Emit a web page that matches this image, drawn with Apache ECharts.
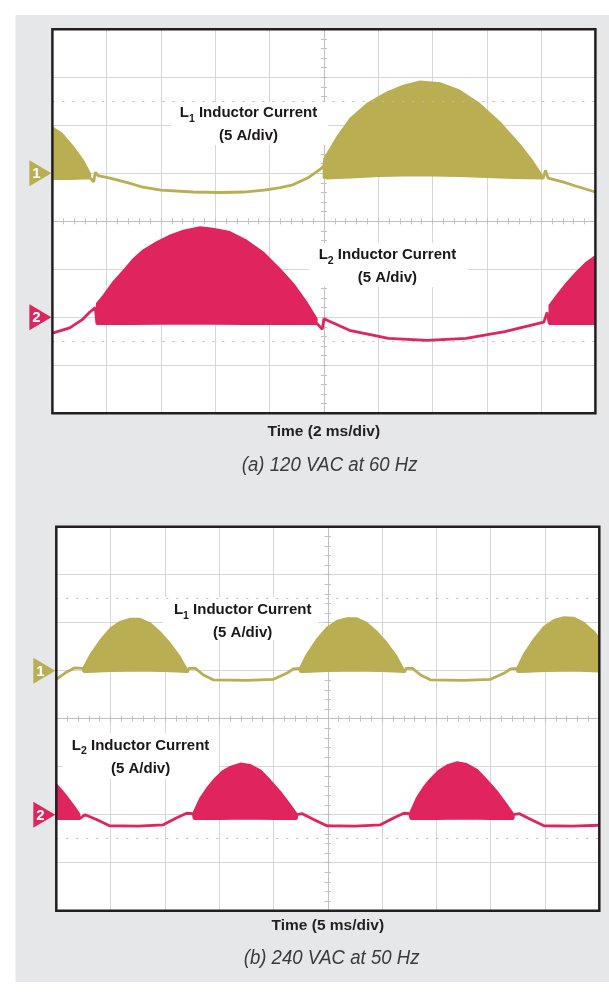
<!DOCTYPE html>
<html><head><meta charset="utf-8">
<script src="https://cdn.jsdelivr.net/npm/echarts@6/dist/echarts.min.js"></script>
<style>html,body{margin:0;padding:0;background:#fff}#c{width:609px;height:992px}</style>
</head><body><div id="c"></div>
<script>
// ---------- Panel (a): 120 VAC at 60 Hz, time in ms (2 ms/div), current in divisions (5 A/div) ----------
// L1 inductor current: base trace
const A_L1_t = [-10, -9.4, -8.8, -8.6, -8.48, -8.42, -8.32, -7.88, -7.2, -6.66, -6.0, -4.8, -3.8, -2.96, -2.2, -1.6, -1.14, -0.6, -0.14, -0.02, 0.1, 1.0, 2.0, 3.0, 4.0, 5.0, 6.0, 7.0, 8.08, 8.16, 8.26, 8.8, 9.24, 10];
const A_L1_i = [0.89, 0.89, 0.9, 0.9, 0.82, 1.02, 0.95, 0.9, 0.8, 0.71, 0.65, 0.61, 0.6, 0.61, 0.65, 0.7, 0.76, 0.9, 1.08, 1.15, 0.9, 0.92, 0.95, 0.96, 0.96, 0.95, 0.93, 0.91, 0.9, 1.06, 0.9, 0.82, 0.74, 0.61];
// L1 switching-ripple envelope
const A_L1_b1_t  = [-10, -9.64, -9.22, -8.86, -8.6];
const A_L1_b1_lo = [0.89, 0.89, 0.89, 0.9, 0.9];
const A_L1_b1_hi = [1.96, 1.83, 1.55, 1.27, 0.99];
const A_L1_b2_t  = [-0.02, 0, 0.48, 0.96, 1.58, 2.32, 2.92, 3.54, 4.28, 5.0, 5.74, 6.48, 7.22, 7.7, 8.08];
const A_L1_b2_lo = [0.9, 0.9, 0.92, 0.93, 0.95, 0.96, 0.96, 0.96, 0.96, 0.95, 0.94, 0.93, 0.91, 0.9, 0.9];
const A_L1_b2_hi = [1.2, 1.3, 1.76, 2.14, 2.45, 2.69, 2.83, 2.92, 2.88, 2.73, 2.45, 2.07, 1.6, 1.25, 0.92];
// L2 inductor current: base trace
const A_L2_t = [-10, -9.36, -8.9, -8.62, -8.42, -8.36, -7.0, -5.0, -3.0, -1.0, -0.26, -0.14, -0.06, 0, 0.94, 2.38, 3.8, 5.24, 6.66, 8.1, 8.22, 8.3, 9.2, 10];
const A_L2_i = [-2.33, -2.22, -2.05, -1.89, -1.8, -2.13, -2.13, -2.12, -2.13, -2.13, -2.13, -2.2, -2.25, -2.03, -2.27, -2.44, -2.48, -2.44, -2.3, -2.1, -1.9, -2.13, -2.13, -2.13];
const A_L2_b1_t  = [-8.37, -8.12, -7.76, -7.38, -7.02, -6.66, -6.16, -5.66, -5.18, -4.56, -4.08, -3.46, -2.84, -2.24, -1.62, -1.12, -0.64, -0.26];
const A_L2_b1_lo = [-2.13, -2.13, -2.13, -2.13, -2.12, -2.12, -2.12, -2.11, -2.11, -2.11, -2.11, -2.11, -2.12, -2.12, -2.12, -2.13, -2.13, -2.13];
const A_L2_b1_hi = [-1.71, -1.54, -1.26, -1.02, -0.78, -0.6, -0.43, -0.29, -0.19, -0.12, -0.15, -0.22, -0.4, -0.64, -0.99, -1.3, -1.68, -2.03];
const A_L2_b2_t  = [8.3, 8.55, 8.91, 9.29, 9.65, 10];
const A_L2_b2_lo = [-2.13, -2.13, -2.13, -2.13, -2.12, -2.12];
const A_L2_b2_hi = [-1.75, -1.56, -1.3, -1.06, -0.86, -0.72];

// ---------- Panel (b): 240 VAC at 50 Hz, time in ms (5 ms/div) ----------
const B_L1_t = [-25, -24.2, -23.3, -22.55, -22.45, -20, -17.5, -15, -12.9, -12.8, -12.2, -11.45, -10.55, -7.5, -5.0, -3.75, -3.15, -2.6, -2.5, 0, 2.5, 5, 7.1, 7.2, 7.8, 8.55, 9.45, 12.5, 15.0, 16.25, 16.85, 17.4, 17.5, 20, 22.5, 25];
const B_L1_i = [0.82, 0.95, 1.06, 1.05, 0.98, 1.0, 1.01, 1.0, 0.98, 1.05, 1.05, 0.91, 0.81, 0.8, 0.82, 0.95, 1.04, 1.05, 0.98, 1.0, 1.01, 1.0, 0.98, 1.05, 1.05, 0.91, 0.81, 0.8, 0.82, 0.95, 1.04, 1.05, 0.98, 1.0, 1.01, 0.99];
const B_L1_b1_t  = [-22.5, -21.9, -20.95, -20.05, -19.15, -18.2, -17.3, -16.35, -15.45, -14.5, -13.6, -13.0, -12.85];
const B_L1_b1_lo = [0.98, 0.98, 0.99, 1.0, 1.0, 1.01, 1.01, 1.01, 1.0, 1.0, 0.99, 0.98, 0.98];
const B_L1_b1_hi = [1.07, 1.33, 1.64, 1.88, 2.02, 2.09, 2.09, 1.99, 1.81, 1.57, 1.29, 1.05, 1.0];
const B_L1_b2_t  = [-2.55, -1.95, -1.0, -0.1, 0.8, 1.75, 2.65, 3.6, 4.5, 5.45, 6.35, 6.95, 7.1];
const B_L1_b2_lo = [0.98, 0.98, 0.99, 1.0, 1.0, 1.01, 1.01, 1.01, 1.0, 1.0, 0.99, 0.98, 0.98];
const B_L1_b2_hi = [1.07, 1.34, 1.66, 1.9, 2.04, 2.1, 2.1, 2.0, 1.82, 1.58, 1.3, 1.05, 1.0];
const B_L1_b3_t  = [17.45, 18.05, 19.0, 19.9, 20.8, 21.75, 22.65, 23.6, 24.5, 25];
const B_L1_b3_lo = [0.98, 0.98, 0.99, 1.0, 1.0, 1.01, 1.01, 1.01, 1.0, 1.0];
const B_L1_b3_hi = [1.07, 1.35, 1.67, 1.92, 2.06, 2.12, 2.11, 2.0, 1.82, 1.68];
const B_L2_t = [-25, -22.85, -22.35, -21.3, -20.1, -17.5, -15.15, -13.95, -13.0, -12.4, -12.3, -10, -7.5, -5, -2.9, -2.85, -2.35, -1.3, -0.1, 2.5, 4.85, 6.05, 7.0, 7.55, 7.65, 10, 12.5, 15, 17.05, 17.1, 17.65, 18.7, 19.9, 22.5, 25];
const B_L2_i = [-2.08, -2.08, -2.0, -2.1, -2.23, -2.24, -2.21, -2.07, -1.97, -1.98, -2.08, -2.08, -2.07, -2.08, -2.08, -2.0, -1.98, -2.1, -2.23, -2.24, -2.21, -2.07, -1.97, -1.98, -2.08, -2.08, -2.07, -2.08, -2.08, -2.0, -1.98, -2.1, -2.23, -2.24, -2.22];
const B_L2_b1_t  = [-25, -24.4, -23.45, -22.9, -22.85];
const B_L2_b1_lo = [-2.08, -2.08, -2.08, -2.08, -2.08];
const B_L2_b1_hi = [-1.36, -1.51, -1.79, -1.97, -2.0];
const B_L2_b2_t  = [-12.35, -11.75, -11.15, -10.55, -9.75, -9.0, -8.05, -7.15, -6.2, -5.3, -4.4, -3.45, -2.9, -2.85];
const B_L2_b2_lo = [-2.08, -2.08, -2.08, -2.07, -2.07, -2.07, -2.06, -2.06, -2.07, -2.07, -2.07, -2.08, -2.08, -2.08];
const B_L2_b2_hi = [-1.94, -1.65, -1.45, -1.28, -1.1, -1.0, -0.93, -0.96, -1.07, -1.28, -1.51, -1.79, -1.97, -2.0];
const B_L2_b3_t  = [7.6, 8.2, 8.8, 9.4, 10.2, 10.95, 11.9, 12.8, 13.75, 14.65, 15.55, 16.5, 17.05, 17.1];
const B_L2_b3_lo = [-2.08, -2.08, -2.08, -2.07, -2.07, -2.07, -2.06, -2.06, -2.07, -2.07, -2.07, -2.08, -2.08, -2.08];
const B_L2_b3_hi = [-1.94, -1.64, -1.43, -1.26, -1.08, -0.97, -0.9, -0.94, -1.06, -1.27, -1.5, -1.79, -1.97, -2.0];

// Channel ground markers and cursor levels (divisions)
const markerLevels = [1, -2];
const markerNames = ['1', '2'];
const cursorLevels = [2.5, -2.5];
// Axis ranges [min, max, interval]
const A_xRange = [-10, 10, 2];
const B_xRange = [-25, 25, 5];
const yRange = [-4, 4, 1];

// ---------- layout & styling ----------
const GRID_A = { left: 52.4, top: 29.3, width: 543, height: 384 };
const GRID_B = { left: 56.3, top: 526.7, width: 543, height: 384 };
const OLIVE = '#b9ae52';
const RED = '#e0245e';
const GRIDC = '#d6d6d6';
const CENTERC = '#bfbfbf';
const FONT = '"Liberation Sans", Arial, Helvetica, sans-serif';

function zip(t, v) { return t.map((x, i) => [x, v[i]]); }

function axisPair(dim, gridIndex, rng) {
  const pos = dim === 'x' ? ['bottom', 'top'] : ['left', 'right'];
  return pos.map((p, k) => ({
    gridIndex, type: 'value', min: rng[0], max: rng[1], interval: rng[2], position: p,
    axisLine: { show: true, onZero: true, lineStyle: { color: CENTERC, width: 1 } },
    axisTick: { show: true, length: 3, lineStyle: { color: CENTERC, width: 1 } },
    minorTick: { show: true, splitNumber: 5, length: 3, lineStyle: { color: CENTERC, width: 1 } },
    axisLabel: { show: false },
    splitLine: { show: k === 0, lineStyle: { color: GRIDC, width: 1 } },
    z: 0
  }));
}

function bandSeries(xi, yi, color, segs) {
  const data = [];
  segs.forEach((s, k) => s[0].forEach((t, i) => data.push([t, s[1][i], s[2][i], k])));
  return {
    type: 'custom', xAxisIndex: xi, yAxisIndex: yi, z: 4, silent: true,
    encode: { x: 0, y: [1, 2] }, data,
    renderItem(params, api) {
      const idx = params.dataIndexInside;
      const seg = api.value(3, idx);
      if (idx > 0 && api.value(3, idx - 1) === seg) return null;
      const up = [], dn = [];
      for (let i = idx; i < params.dataInsideLength && api.value(3, i) === seg; i++) {
        up.push(api.coord([api.value(0, i), api.value(2, i)]));
        dn.push(api.coord([api.value(0, i), api.value(1, i)]));
      }
      return { type: 'polygon', shape: { points: up.concat(dn.reverse()) },
               style: { fill: color, stroke: color, lineWidth: 1.5, lineJoin: 'round' } };
    }
  };
}

function traceSeries(xi, yi, color, t, v) {
  return { type: 'line', xAxisIndex: xi, yAxisIndex: yi, z: 5, silent: true, showSymbol: false,
           data: zip(t, v), lineStyle: { color, width: 2.8 }, itemStyle: { color } };
}

function markerSeries(xi, yi, xmin) {
  return {
    type: 'scatter', xAxisIndex: xi, yAxisIndex: yi, z: 2, silent: true, clip: false,
    symbol: 'path://M0,0L12,6.5L0,13Z', symbolSize: [22, 26], symbolOffset: [-12, 0],
    data: markerLevels.map((lv, k) => ({ value: [xmin, lv], itemStyle: { color: k === 0 ? OLIVE : RED, opacity: 1 },
      label: { formatter: markerNames[k] } })),
    itemStyle: { opacity: 1 },
    label: { show: true, position: 'inside', color: '#fff', fontWeight: 'bold', fontSize: 15, fontFamily: FONT, offset: [-4, 1] },
    markLine: { silent: true, symbol: 'none', label: { show: false },
      lineStyle: { color: '#bdbdbd', type: [2, 8], width: 1 },
      data: cursorLevels.map(v => ({ yAxis: v })) }
  };
}

function label(cx, cy, sub) {
  return { type: 'text', x: cx, y: cy, z: 10, silent: true,
    style: { text: '{b|L}{s|' + sub + '}{b| Inductor Current}\n{b|(5 A/div)}',
      textAlign: 'center', textVerticalAlign: 'middle', align: 'center', verticalAlign: 'middle',
      rich: {
        b: { fontFamily: FONT, fontSize: 15, fontWeight: 'bold', lineHeight: 23, fill: '#1a1718', color: '#1a1718' },
        s: { fontFamily: FONT, fontSize: 10.5, fontWeight: 'bold', lineHeight: 10, verticalAlign: 'bottom', fill: '#1a1718', color: '#1a1718' }
      } } };
}
function box(x, y, w, h) {
  return { type: 'rect', z: 1, silent: true, shape: { x, y, width: w, height: h }, style: { fill: '#fff' } };
}
function frame(g) {
  return { type: 'rect', z: 20, silent: true, shape: { x: g.left, y: g.top, width: g.width, height: g.height },
           style: { fill: 'none', stroke: '#231f20', lineWidth: 2.5 } };
}
function plainText(cx, cy, txt, font, color, sx) {
  return { type: 'text', x: cx, y: cy, z: 10, silent: true, scaleX: sx || 1,
    style: { text: txt, font, fill: color, textAlign: 'center', textVerticalAlign: 'middle', align: 'center', verticalAlign: 'middle' } };
}

const xA = axisPair('x', 0, A_xRange), yA = axisPair('y', 0, yRange);
const xB = axisPair('x', 1, B_xRange), yB = axisPair('y', 1, yRange);

const option = {
  animation: false,
  backgroundColor: 'transparent',
  grid: [
    Object.assign({ show: true, backgroundColor: '#fff', borderWidth: 0 }, GRID_A),
    Object.assign({ show: true, backgroundColor: '#fff', borderWidth: 0 }, GRID_B)
  ],
  xAxis: xA.concat(xB),
  yAxis: yA.concat(yB),
  graphic: [
    { type: 'rect', z: -10, silent: true, shape: { x: 15.5, y: 15, width: 594, height: 967 }, style: { fill: '#e6e7e8' } },
    frame(GRID_A), frame(GRID_B),
    box(171, 102, 157, 43), label(248.5, 124.5, '1'),
    box(309, 243, 159, 44), label(387.4, 266.5, '2'),
    box(163, 597, 155, 43), label(242.7, 621.5, '1'),
    box(63, 733, 155, 46), label(140.6, 757, '2'),
    plainText(323.8, 432, 'Time (2 ms/div)', 'bold 15.5px ' + FONT, '#231f20'),
    plainText(329.7, 465, '(a) 120 VAC at 60 Hz', 'italic 20px ' + FONT, '#3a3a3a', 0.93),
    plainText(327.8, 926, 'Time (5 ms/div)', 'bold 15.5px ' + FONT, '#231f20'),
    plainText(331.6, 958, '(b) 240 VAC at 50 Hz', 'italic 20px ' + FONT, '#3a3a3a', 0.93)
  ],
  series: [
    markerSeries(0, 0, A_xRange[0]),
    bandSeries(0, 0, OLIVE, [[A_L1_b1_t, A_L1_b1_lo, A_L1_b1_hi], [A_L1_b2_t, A_L1_b2_lo, A_L1_b2_hi]]),
    traceSeries(0, 0, OLIVE, A_L1_t, A_L1_i),
    bandSeries(0, 0, RED, [[A_L2_b1_t, A_L2_b1_lo, A_L2_b1_hi], [A_L2_b2_t, A_L2_b2_lo, A_L2_b2_hi]]),
    traceSeries(0, 0, RED, A_L2_t, A_L2_i),
    markerSeries(2, 2, B_xRange[0]),
    bandSeries(2, 2, OLIVE, [[B_L1_b1_t, B_L1_b1_lo, B_L1_b1_hi], [B_L1_b2_t, B_L1_b2_lo, B_L1_b2_hi], [B_L1_b3_t, B_L1_b3_lo, B_L1_b3_hi]]),
    traceSeries(2, 2, OLIVE, B_L1_t, B_L1_i),
    bandSeries(2, 2, RED, [[B_L2_b1_t, B_L2_b1_lo, B_L2_b1_hi], [B_L2_b2_t, B_L2_b2_lo, B_L2_b2_hi], [B_L2_b3_t, B_L2_b3_lo, B_L2_b3_hi]]),
    traceSeries(2, 2, RED, B_L2_t, B_L2_i)
  ]
};
const chart = echarts.init(document.getElementById('c'), null, { renderer: 'canvas' });
chart.setOption(option);
</script></body></html>
